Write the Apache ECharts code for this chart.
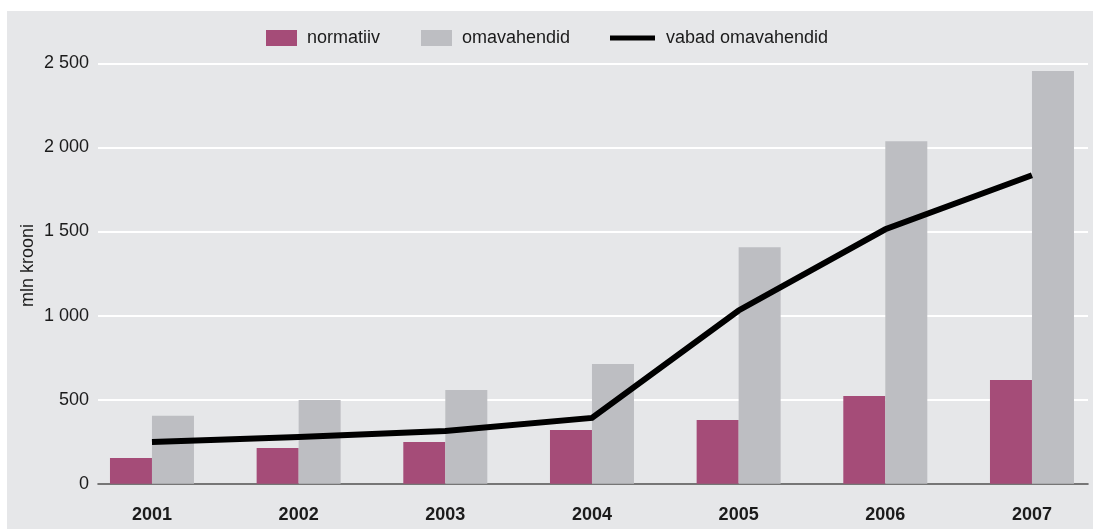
<!DOCTYPE html>
<html>
<head>
<meta charset="utf-8">
<script src="https://cdn.jsdelivr.net/npm/echarts@6/dist/echarts.min.js"></script>
<style>
  html, body { margin: 0; padding: 0; background: #ffffff; }
  #panel { position: absolute; left: 7px; top: 11px; width: 1086px; height: 518px; background: #e6e7e9; }
  #chart { position: absolute; left: 0; top: 0; width: 1093px; height: 529px; }
</style>
</head>
<body>
<div id="panel"></div>
<div id="chart"></div>
<script>
// Years on the horizontal axis
const years = [2001, 2002, 2003, 2004, 2005, 2006, 2007];
// mln krooni
const normatiiv = [153, 212, 248, 319, 379, 521, 617];
const omavahendid = [404, 498, 557, 712, 1406, 2037, 2454];
const vabadOmavahendid = [248, 277, 313, 391, 1030, 1513, 1834];
// Value axis ticks
const yTicks = [0, 500, 1000, 1500, 2000, 2500];

const FONT = '"Liberation Sans", Arial, Helvetica, sans-serif';
const TEXT = '#1b1b1b';

function spaced(v) {
  return String(v).replace(/\B(?=(\d{3})+(?!\d))/g, ' ');
}

const chart = echarts.init(document.getElementById('chart'), null, { renderer: 'canvas' });

chart.setOption({
  backgroundColor: 'transparent',
  animation: false,
  textStyle: { fontFamily: FONT, color: TEXT },
  legend: [
    {
      left: 261, top: 24,
      itemWidth: 31, itemHeight: 16, itemGap: 41,
      icon: 'rect',
      textStyle: { fontFamily: FONT, fontSize: 18, color: TEXT, padding: [0, 0, 0, 5] },
      data: ['normatiiv', 'omavahendid']
    },
    {
      left: 605, top: 24,
      itemWidth: 45, itemHeight: 16,
      icon: 'path://M0,6 H45 V11 H0 Z',
      textStyle: { fontFamily: FONT, fontSize: 18, color: TEXT, padding: [0, 0, 0, 6] },
      data: ['vabad omavahendid']
    }
  ],
  grid: { left: 98, right: 5, top: 63.3, bottom: 45.3, containLabel: false },
  xAxis: {
    type: 'value',
    min: 2000.632,
    max: 2007.382,
    splitLine: { show: false },
    axisTick: { show: false },
    axisLine: { show: true, onZero: true, lineStyle: { color: '#4a4a4a', width: 1.5 } },
    axisLabel: {
      customValues: years,
      margin: 22,
      fontFamily: FONT, fontSize: 18, fontWeight: 'bold', color: TEXT,
      formatter: v => String(Math.round(v))
    }
  },
  yAxis: {
    type: 'value',
    min: yTicks[0],
    max: yTicks[yTicks.length - 1],
    interval: 500,
    name: 'mln krooni',
    nameLocation: 'middle',
    nameGap: 61,
    nameMoveOverlap: false,
    nameTextStyle: { fontFamily: FONT, fontSize: 18, color: TEXT, padding: [0, 0, 0, 16] },
    axisLine: { show: false },
    axisTick: { show: false },
    axisLabel: { margin: 9, fontFamily: FONT, fontSize: 18, color: TEXT, formatter: spaced },
    splitLine: { show: true, lineStyle: { color: '#ffffff', width: 2 } }
  },
  series: [
    {
      name: 'normatiiv',
      type: 'bar',
      barWidth: 42,
      barGap: '0%',
      itemStyle: { color: '#a54c78' },
      data: years.map((y, i) => [y, normatiiv[i]])
    },
    {
      name: 'omavahendid',
      type: 'bar',
      barWidth: 42,
      barGap: '0%',
      itemStyle: { color: '#bdbec2' },
      data: years.map((y, i) => [y, omavahendid[i]])
    },
    {
      name: 'vabad omavahendid',
      type: 'line',
      symbol: 'none',
      itemStyle: { color: '#000000' },
      lineStyle: { color: '#000000', width: 6, cap: 'butt', join: 'miter' },
      z: 5,
      data: years.map((y, i) => [y, vabadOmavahendid[i]])
    }
  ]
});
</script>
</body>
</html>
